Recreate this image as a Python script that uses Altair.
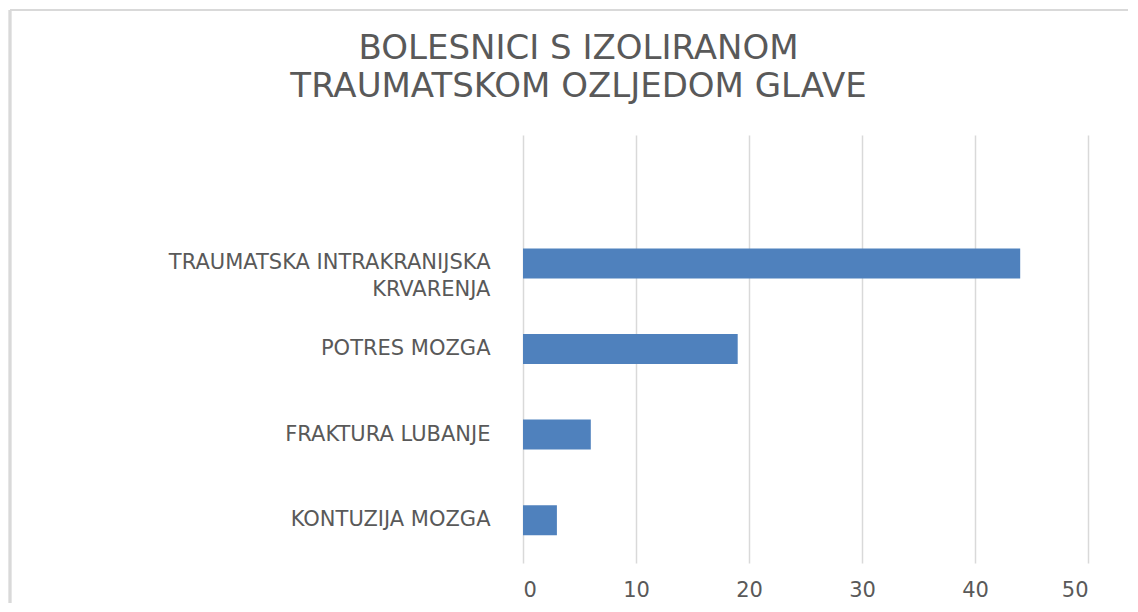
import altair as alt
import pandas as pd

categories = ["TRAUMATSKA INTRAKRANIJSKA KRVARENJA", "POTRES MOZGA", "FRAKTURA LUBANJE", "KONTUZIJA MOZGA"]
values = [44, 19, 6, 3]
domain_order = [" "] + categories  # Excel layout leaves an empty slot at the top
x_ticks = [0, 10, 20, 30, 40, 50]

df = pd.DataFrame({"kategorija": categories, "broj": values})

FONT = "DejaVu Sans"
TXT = "#595959"

bars = alt.Chart(df).mark_bar(color="#4F81BD").encode(
    x=alt.X("broj:Q", scale=alt.Scale(domain=[0, 50], nice=False),
            axis=alt.Axis(values=x_ticks, title=None, grid=True, gridColor="#D9D9D9",
                          gridWidth=1.5, domain=False, ticks=False, labelFont=FONT,
                          labelFontSize=21, labelColor=TXT, labelPadding=16)),
    y=alt.Y("kategorija:N", sort=domain_order,
            scale=alt.Scale(domain=domain_order, paddingInner=0.65, paddingOuter=0.325),
            axis=alt.Axis(title=None, domain=False, ticks=False, grid=False, labelFont=FONT,
                          labelFontSize=21, labelColor=TXT, labelPadding=33, labelLimit=600,
                          labelLineHeight=27,
                          labelExpr="datum.label == 'TRAUMATSKA INTRAKRANIJSKA KRVARENJA' ? ['TRAUMATSKA INTRAKRANIJSKA', 'KRVARENJA'] : datum.label")),
)

frame_left = alt.Chart(df).mark_rule(color="#D9D9D9", strokeWidth=2.5).encode(
    x=alt.value(-513), y=alt.value(-125), y2=alt.value(480)
)
frame_top = alt.Chart(df).mark_rule(color="#D9D9D9", strokeWidth=2).encode(
    x=alt.value(-513), x2=alt.value(620), y=alt.value(-125)
)

chart = alt.layer(frame_left, frame_top, bars).properties(
    width=565, height=428,
    background="white",
    autosize=alt.AutoSizeParams(type="none"),
    padding={"left": 515, "top": 127, "right": 40, "bottom": 40},
    title=alt.TitleParams(
        text=["BOLESNICI S IZOLIRANOM", "TRAUMATSKOM OZLJEDOM GLAVE"],
        font=FONT, fontSize=34, fontWeight="normal", color=TXT,
        anchor="middle", dx=-227, offset=-122, lineHeight=38, baseline="alphabetic",
    ),
).configure_view(stroke="transparent", strokeWidth=0)

chart.save("out.html", embed_options={"renderer": "svg", "actions": False})
